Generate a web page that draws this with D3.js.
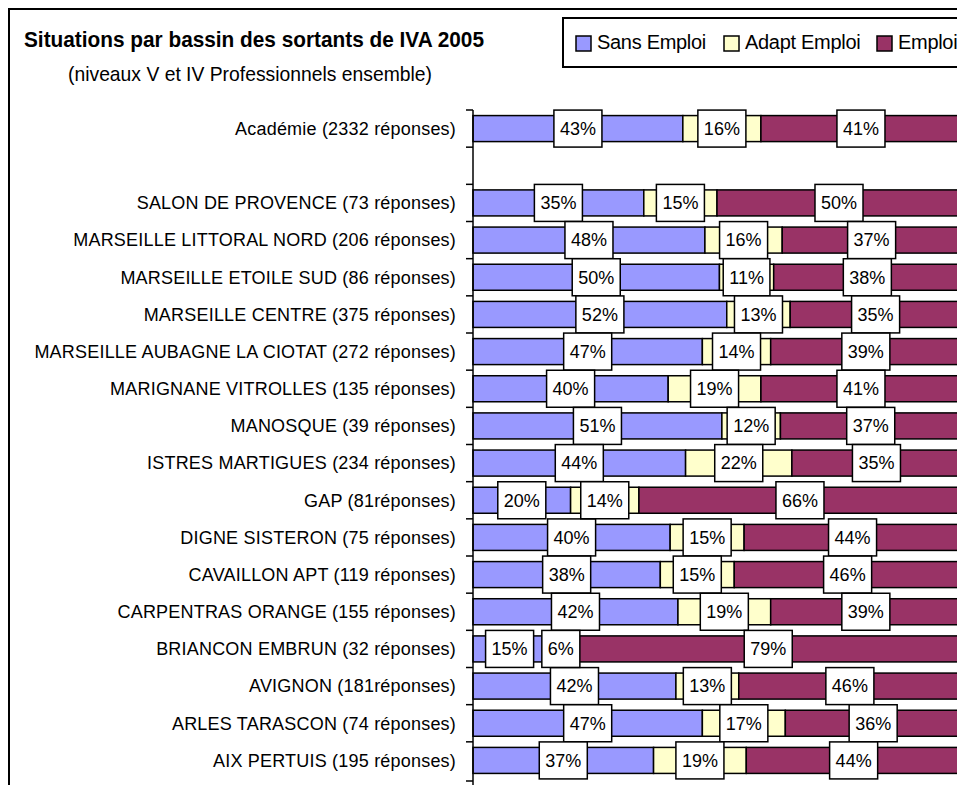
<!DOCTYPE html>
<html>
<head>
<meta charset="utf-8">
<script src="https://cdn.jsdelivr.net/npm/d3@7"></script>
<style>
  body { margin: 0; background: #fff; }
  text { font-family: "Liberation Sans", Arial, sans-serif; fill: #000; }
</style>
</head>
<body>
<div id="chart"></div>
<script>
const categories = [
  "Académie (2332 réponses)",
  "",
  "SALON DE PROVENCE (73 réponses)",
  "MARSEILLE LITTORAL NORD (206 réponses)",
  "MARSEILLE ETOILE SUD (86 réponses)",
  "MARSEILLE CENTRE (375 réponses)",
  "MARSEILLE AUBAGNE LA CIOTAT (272 réponses)",
  "MARIGNANE VITROLLES (135 réponses)",
  "MANOSQUE (39 réponses)",
  "ISTRES MARTIGUES (234 réponses)",
  "GAP (81réponses)",
  "DIGNE SISTERON (75 réponses)",
  "CAVAILLON APT (119 réponses)",
  "CARPENTRAS ORANGE (155 réponses)",
  "BRIANCON EMBRUN (32 réponses)",
  "AVIGNON (181réponses)",
  "ARLES TARASCON (74 réponses)",
  "AIX PERTUIS (195 réponses)"
]
const sansEmploi  = [43, null, 35, 48, 50, 52, 47, 40, 51, 44, 20, 40, 38, 42, 15, 42, 47, 37]
const adaptEmploi = [16, null, 15, 16, 11, 13, 14, 19, 12, 22, 14, 15, 15, 19, 6, 13, 17, 19]
const emploi      = [41, null, 50, 37, 38, 35, 39, 41, 37, 35, 66, 44, 46, 39, 79, 46, 36, 44]
const seriesNames = ["Sans Emploi", "Adapt Emploi", "Emploi"]
const seriesColors = ["#9999FF", "#FFFFCC", "#993366"]

const width = 957
const height = 785
const margin = {top: 110, right: -4, bottom: 6, left: 473}

const svg = d3.select('#chart').append('svg')
  .attr('width', width)
  .attr('height', height)

// outer frame
svg.append('rect')
  .attr('x', 9).attr('y', 9)
  .attr('width', width + 20).attr('height', height + 20)
  .attr('fill', 'none').attr('stroke', '#000').attr('stroke-width', 2)

svg.append('text')
  .attr('x', 24).attr('y', 47)
  .attr('textLength', 460).attr('lengthAdjust', 'spacingAndGlyphs')
  .style('font-size', '22px').style('font-weight', 'bold')
  .text('Situations par bassin  des sortants de IVA 2005')

svg.append('text')
  .attr('x', 68).attr('y', 81)
  .attr('textLength', 364).attr('lengthAdjust', 'spacingAndGlyphs')
  .style('font-size', '21px')
  .text('(niveaux V et IV Professionnels ensemble)')

const rows = categories.map((c, i) => ({
  cat: c,
  "Sans Emploi": sansEmploi[i],
  "Adapt Emploi": adaptEmploi[i],
  "Emploi": emploi[i]
}))
const dataRows = rows.filter(r => r["Sans Emploi"] != null)

const stacked = d3.stack()
  .keys(seriesNames)
  .offset(d3.stackOffsetExpand)(dataRows)

const xScale = d3.scaleLinear()
  .domain([0, 1])
  .range([margin.left, width - margin.right])

const yScale = d3.scaleBand()
  .domain(categories.map((c, i) => i))
  .range([margin.top, height - margin.bottom])
  .paddingInner(0.3)
  .paddingOuter(0.15)

const color = d3.scaleOrdinal().domain(seriesNames).range(seriesColors)

const layers = svg.append('g')
  .selectAll('g')
  .data(stacked)
  .join('g')
  .attr('fill', d => color(d.key))

layers.selectAll('rect')
  .data(d => d)
  .join('rect')
  .attr('x', d => xScale(d[0]))
  .attr('y', d => yScale(categories.indexOf(d.data.cat)))
  .attr('width', d => xScale(d[1]) - xScale(d[0]))
  .attr('height', yScale.bandwidth())
  .attr('stroke', '#000')
  .attr('stroke-width', 1.5)

// y axis: line with ticks at the band edges
const yAxisG = svg.append('g')
const edges = categories.map((c, i) => yScale(i) - yScale.step() * yScale.paddingInner() / 2)
edges.push(height - margin.bottom + 2)
yAxisG.append('line')
  .attr('x1', margin.left).attr('x2', margin.left)
  .attr('y1', edges[0]).attr('y2', height)
  .attr('stroke', '#000').attr('stroke-width', 1.5)
yAxisG.selectAll('.tick')
  .data(edges)
  .join('line')
  .attr('x1', margin.left - 7).attr('x2', margin.left)
  .attr('y1', d => d).attr('y2', d => d)
  .attr('stroke', '#000').attr('stroke-width', 1.5)

yAxisG.selectAll('.cat')
  .data(categories)
  .join('text')
  .attr('x', margin.left - 17)
  .attr('y', (d, i) => yScale(i) + yScale.bandwidth() / 2)
  .attr('dy', '0.35em')
  .attr('text-anchor', 'end')
  .style('font-size', '18px')
  .style('letter-spacing', '0.2px')
  .text(d => d)

// value labels in boxes
const labels = []
stacked.forEach(layer => {
  layer.forEach(d => {
    labels.push({
      x: (xScale(d[0]) + xScale(d[1])) / 2,
      y: yScale(categories.indexOf(d.data.cat)) + yScale.bandwidth() / 2,
      v: d.data[layer.key]
    })
  })
})

const lab = svg.append('g')
  .selectAll('g')
  .data(labels)
  .join('g')
  .attr('transform', d => `translate(${d.x},${d.y})`)

const labRect = lab.append('rect')
  .attr('fill', '#fff')
  .attr('stroke', '#000')
  .attr('stroke-width', 1.5)

const labText = lab.append('text')
  .attr('text-anchor', 'middle')
  .attr('dy', '0.35em')
  .style('font-size', '18px')
  .text(d => d.v + '%')

labText.each(function(d) { d.w = this.getComputedTextLength() })
labRect
  .attr('x', d => -d.w / 2 - 6)
  .attr('y', -18.5)
  .attr('width', d => d.w + 12)
  .attr('height', 37)

// legend
const legend = svg.append('g')
legend.append('rect')
  .attr('x', 563).attr('y', 18)
  .attr('width', 420).attr('height', 49)
  .attr('fill', '#fff').attr('stroke', '#000').attr('stroke-width', 2)

const legendX = [576, 724, 877]
seriesNames.forEach((s, i) => {
  legend.append('rect')
    .attr('x', legendX[i]).attr('y', 36)
    .attr('width', 15).attr('height', 15)
    .attr('fill', color(s)).attr('stroke', '#000').attr('stroke-width', 1.5)
  legend.append('text')
    .attr('x', legendX[i] + 21).attr('y', 42)
    .attr('dy', '0.35em')
    .style('font-size', '20px')
    .style('letter-spacing', '-0.3px')
    .text(s)
})
</script>
</body>
</html>
